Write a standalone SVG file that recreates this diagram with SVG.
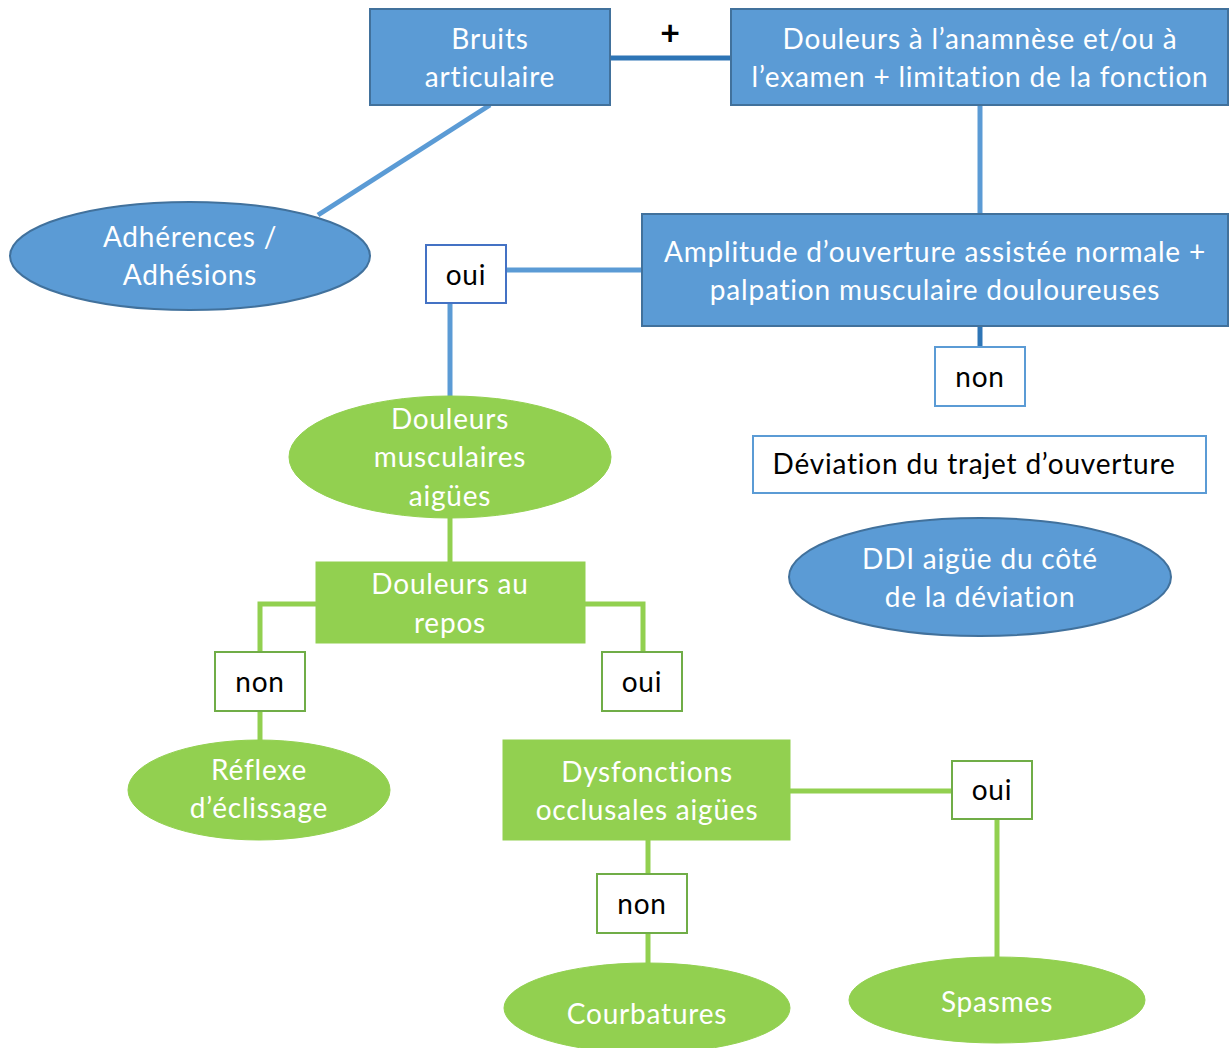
<svg xmlns="http://www.w3.org/2000/svg" width="1230" height="1048" viewBox="0 0 1230 1048">
<style>
.bb{fill:#5b9bd5;stroke:#41719c;stroke-width:2}
.gb{fill:#92d050;stroke:#92d050;stroke-width:1}
.wbb{fill:#fff;stroke:#5b9bd5;stroke-width:2}
.wbd{fill:#fff;stroke:#4472c4;stroke-width:2}
.wg{fill:#fff;stroke:#70ad47;stroke-width:2}
.tw{font-family:Lato,"Liberation Sans",sans-serif;font-size:28px;letter-spacing:0.8px;fill:#fff;text-anchor:middle}
.tk{font-family:Lato,"Liberation Sans",sans-serif;font-size:28px;letter-spacing:0.8px;fill:#000;text-anchor:middle}
.lb{stroke:#5b9bd5;stroke-width:5;fill:none}
.ld{stroke:#2e75b6;stroke-width:5;fill:none}
.lg{stroke:#92d050;stroke-width:5;fill:none}
</style>
<rect width="1230" height="1048" fill="#fff"/>
<g id="connectors">
<line class="ld" x1="610" y1="58" x2="731" y2="58"/>
<line class="lb" x1="490" y1="105" x2="318" y2="215"/>
<line class="lb" x1="980" y1="105" x2="980" y2="214"/>
<line class="lb" x1="506" y1="270" x2="642" y2="270"/>
<line class="lb" x1="450" y1="303" x2="450" y2="397"/>
<line class="ld" stroke="#0070c0" x1="980" y1="326" x2="980" y2="347"/>
<line class="lg" x1="450" y1="518" x2="450" y2="562"/>
<polyline class="lg" points="316,604 260,604 260,652"/>
<polyline class="lg" points="585,604 643,604 643,652"/>
<line class="lg" x1="260" y1="711" x2="260" y2="745"/>
<line class="lg" x1="790" y1="791" x2="952" y2="791"/>
<line class="lg" x1="997" y1="819" x2="997" y2="960"/>
<line class="lg" x1="648" y1="840" x2="648" y2="874"/>
<line class="lg" x1="648" y1="933" x2="648" y2="965"/>
<text x="670" y="45" font-family="Lato,'Liberation Sans',sans-serif" font-size="34" font-weight="bold" text-anchor="middle">+</text>
</g>
<g id="bruits">
<rect class="bb" x="370" y="9" width="240" height="96"/>
<text class="tw" x="490" y="49">Bruits</text>
<text class="tw" x="490" y="87">articulaire</text>
</g>
<g id="douleurs-anamnese">
<rect class="bb" x="731" y="9" width="497" height="96"/>
<text class="tw" x="980" y="49">Douleurs à l’anamnèse et/ou à</text>
<text class="tw" x="980" y="87">l’examen + limitation de la fonction</text>
</g>
<g id="adherences">
<ellipse class="bb" cx="190" cy="256" rx="180" ry="54"/>
<text class="tw" x="190" y="247">Adhérences /</text>
<text class="tw" x="190" y="285">Adhésions</text>
</g>
<g id="amplitude">
<rect class="bb" x="642" y="214" width="586" height="112"/>
<text class="tw" x="935" y="262">Amplitude d’ouverture assistée normale +</text>
<text class="tw" x="935" y="300">palpation musculaire douloureuses</text>
</g>
<g id="oui-1">
<rect class="wbd" x="426" y="245" width="80" height="58"/>
<text class="tk" x="466" y="285">oui</text>
</g>
<g id="non-1">
<rect class="wbb" x="935" y="347" width="90" height="59"/>
<text class="tk" x="980" y="387">non</text>
</g>
<g id="deviation">
<rect class="wbb" x="753" y="436" width="453" height="57"/>
<text class="tk" x="974" y="474">Déviation du trajet d’ouverture</text>
</g>
<g id="ddi">
<ellipse class="bb" cx="980" cy="577" rx="191" ry="59"/>
<text class="tw" x="980" y="569">DDI aigüe du côté</text>
<text class="tw" x="980" y="607">de la déviation</text>
</g>
<g id="douleurs-musculaires">
<ellipse class="gb" cx="450" cy="457" rx="161" ry="61"/>
<text class="tw" x="450" y="429">Douleurs</text>
<text class="tw" x="450" y="467">musculaires</text>
<text class="tw" x="450" y="506">aigües</text>
</g>
<g id="douleurs-repos">
<rect class="gb" x="316" y="562" width="269" height="81"/>
<text class="tw" x="450" y="594">Douleurs au</text>
<text class="tw" x="450" y="633">repos</text>
</g>
<g id="non-2">
<rect class="wg" x="215" y="652" width="90" height="59"/>
<text class="tk" x="260" y="692">non</text>
</g>
<g id="oui-2">
<rect class="wg" x="602" y="652" width="80" height="59"/>
<text class="tk" x="642" y="692">oui</text>
</g>
<g id="reflexe">
<ellipse class="gb" cx="259" cy="790" rx="131" ry="50"/>
<text class="tw" x="259" y="780">Réflexe</text>
<text class="tw" x="259" y="818">d’éclissage</text>
</g>
<g id="dysfonctions">
<rect class="gb" x="503" y="740" width="287" height="100"/>
<text class="tw" x="647" y="782">Dysfonctions</text>
<text class="tw" x="647" y="820">occlusales aigües</text>
</g>
<g id="oui-3">
<rect class="wg" x="952" y="761" width="80" height="58"/>
<text class="tk" x="992" y="800">oui</text>
</g>
<g id="non-3">
<rect class="wg" x="597" y="874" width="90" height="59"/>
<text class="tk" x="642" y="914">non</text>
</g>
<g id="courbatures">
<ellipse class="gb" cx="647" cy="1008" rx="143" ry="45"/>
<text class="tw" x="647" y="1024">Courbatures</text>
</g>
<g id="spasmes">
<ellipse class="gb" cx="997" cy="1000" rx="148" ry="43"/>
<text class="tw" x="997" y="1012">Spasmes</text>
</g>
</svg>
